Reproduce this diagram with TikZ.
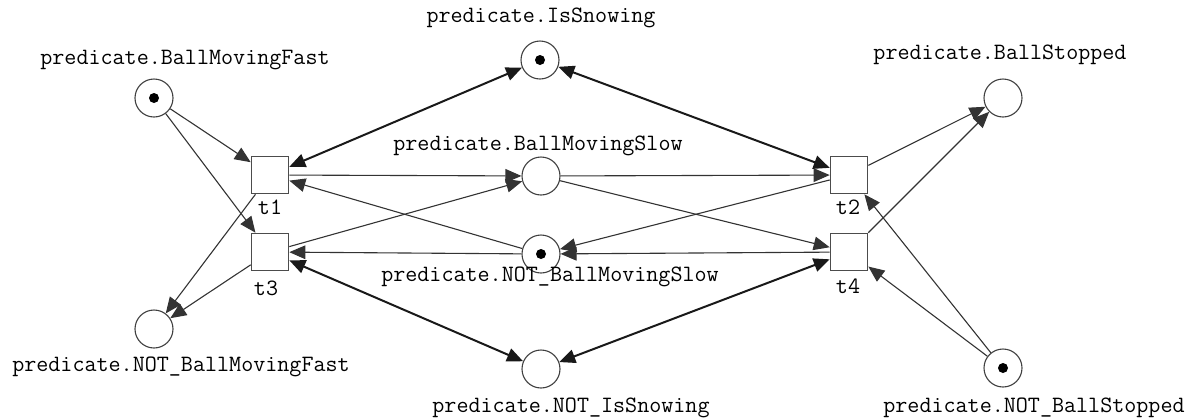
\documentclass[tikz,border=0pt]{standalone}
\usetikzlibrary{arrows.meta}
\begin{document}
\begin{tikzpicture}[x=0.5pt,y=-0.5pt,
  place/.style={circle,draw=black!75,line width=0.55pt,minimum size=19pt,inner sep=0pt,fill=white},
  trans/.style={rectangle,draw=black!70,line width=0.8pt,minimum size=18.5pt,inner sep=0pt,fill=white},
  lbl/.style={font=\ttfamily\fontsize{11.7}{13}\selectfont,inner sep=0pt},
  arc/.style={draw=black!80,line width=0.55pt,-{Triangle[length=8pt,width=6.8pt]}},
  biarc/.style={draw=black!90,line width=1pt,{Triangle[length=8pt,width=6.8pt]}-{Triangle[length=8pt,width=6.8pt]}},
  token/.style={circle,fill=black,inner sep=0pt,minimum size=5pt}]
\useasboundingbox (0,0) rectangle (1196,419);

% places
\node[place] (bmf)  at (154,98)  {};
\node[place] (isn)  at (540,60)  {};
\node[place] (bs)   at (1003,98) {};
\node[place] (bms)  at (541,176) {};
\node[place] (nbms) at (541,254) {};
\node[place] (nbmf) at (154,329) {};
\node[place] (nis)  at (541,369) {};
\node[place] (nbs)  at (1003,368) {};

% tokens
\node[token] (kbmf)  at (bmf)  {};
\node[token] (kisn)  at (isn)  {};
\node[token] (knbms) at (nbms) {};
\node[token] (knbs)  at (nbs)  {};

% transitions
\node[trans] (t1) at (270,175) {};
\node[trans] (t3) at (270,252) {};
\node[trans] (t2) at (849,175) {};
\node[trans] (t4) at (849,252) {};

% place labels
\node[lbl] (lbmf)  at (185,60)   {predicate.BallMovingFast};
\node[lbl] (lisn)  at (541,18)   {predicate.IsSnowing};
\node[lbl] (lbs)   at (1000,55)  {predicate.BallStopped};
\node[lbl] (lbms)  at (538,146)  {predicate.BallMovingSlow};
\node[lbl] (lnbms) at (550,277)  {predicate.NOT\_BallMovingSlow};
\node[lbl] (lnbmf) at (181,367)  {predicate.NOT\_BallMovingFast};
\node[lbl] (lnis)  at (571,408)  {predicate.NOT\_IsSnowing};
\node[lbl] (lnbs)  at (1034,408) {predicate.NOT\_BallStopped};

% transition labels
\node[lbl] (lt1) at (270,207) {t1};
\node[lbl] (lt3) at (266,288) {t3};
\node[lbl] (lt2) at (848,207) {t2};
\node[lbl] (lt4) at (848,286) {t4};

% ordinary arcs
\draw[arc] (bmf) -- (t1);
\draw[arc] (bmf) -- (t3);
\draw[arc] (t1) -- (nbmf);
\draw[arc] (t3) -- (nbmf);
\draw[arc] (t1) -- (bms);
\draw[arc] (t3) -- (bms);
\draw[arc] (bms) -- (t2);
\draw[arc] (bms) -- (t4);
\draw[arc] (nbms) -- (t1);
\draw[arc] (nbms) -- (t3);
\draw[arc] (t2) -- (nbms);
\draw[arc] (t4) -- (nbms);
\draw[arc] (t2) -- (bs);
\draw[arc] (t4) -- (bs);
\draw[arc] (nbs) -- (t2);
\draw[arc] (nbs) -- (t4);

% read arcs in both directions
\draw[biarc] (isn) -- (t1);
\draw[biarc] (isn) -- (t2);
\draw[biarc] (nis) -- (t3);
\draw[biarc] (nis) -- (t4);
\end{tikzpicture}
\end{document}
